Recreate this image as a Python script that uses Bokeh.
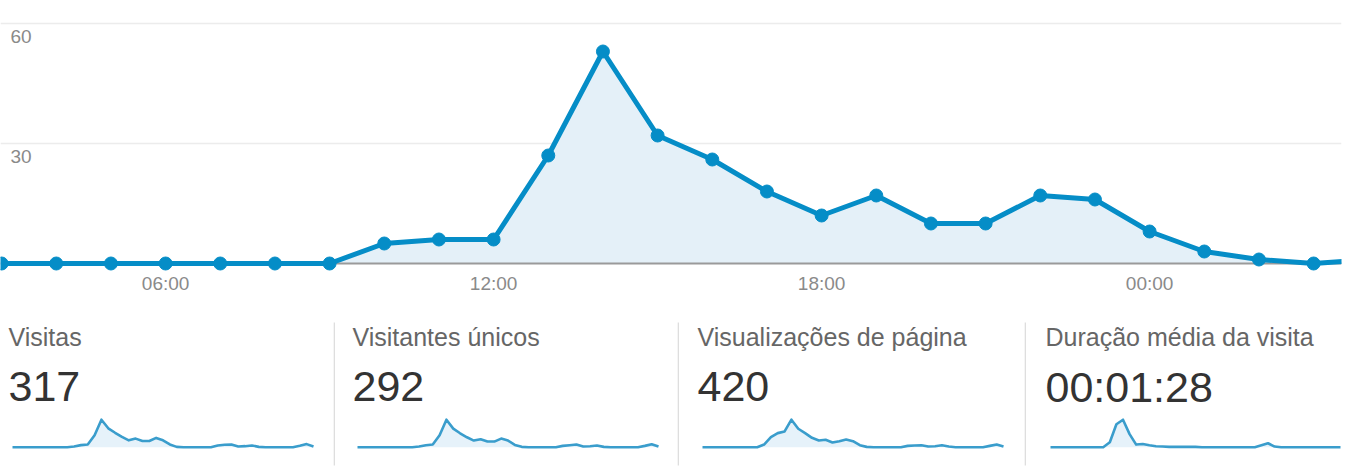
from bokeh.plotting import figure
from bokeh.models import Range1d, FixedTicker, Grid, Label, BoxAnnotation
from bokeh.layouts import column, row
from bokeh.embed import file_html
from bokeh.resources import INLINE

# ---------------- data ----------------
hours = list(range(3, 29))  # 03:00 ... 04:00 (next day)
visits = [0, 0, 0, 0, 0, 0, 0, 5, 6, 6, 27, 53, 32, 26, 18, 12, 17, 10, 10, 17, 16, 8, 3, 1, 0, 1]

xticks = [6, 12, 18, 24]
xtick_labels = ["06:00", "12:00", "18:00", "00:00"]
yticks = [30, 60]
ytick_labels = ["30", "60"]

titles = ["Visitas", "Visitantes únicos", "Visualizações de página", "Duração média da visita"]
totals = ["317", "292", "420", "00:01:28"]

spark_visitas = [0, 0, 0, 0, 0, 0, 0, 0, 0, 2, 6, 8, 35, 80, 55, 42, 30, 20, 25, 18, 18, 27, 20, 8, 1,
                 0, 0, 0, 0, 0, 5, 7, 8, 2, 3, 5, 1, 0, 0, 0, 0, 0, 4, 9, 2]
spark_unicos = [0, 0, 0, 0, 0, 0, 0, 0, 0, 2, 6, 8, 36, 83, 56, 42, 30, 20, 24, 17, 17, 26, 20, 7, 1,
                0, 0, 0, 0, 0, 4, 6, 8, 2, 3, 5, 1, 0, 0, 0, 0, 0, 4, 9, 2]
spark_paginas = [0, 0, 0, 0, 0, 0, 0, 0, 0, 8, 30, 42, 47, 82, 55, 42, 28, 20, 22, 14, 18, 23, 18, 6, 1,
                 0, 0, 0, 0, 0, 4, 5, 6, 2, 3, 6, 2, 0, 0, 0, 0, 0, 4, 8, 2]
spark_duracao = [0, 0, 0, 0, 0, 0, 0, 0, 0, 15, 70, 84, 40, 8, 10, 6, 3, 2, 1, 1, 1, 1, 1, 0, 0,
                 0, 0, 0, 0, 0, 0, 0, 6, 12, 2, 0, 0, 0, 0, 0, 0, 0, 0, 0, 0]
sparks = [spark_visitas, spark_unicos, spark_paginas, spark_duracao]

FONT = "Liberation Sans"
BLUE = "#058dc7"

# ---------------- main chart ----------------
p = figure(width=1347, height=300,
           x_range=Range1d(2.98, 27.51), y_range=Range1d(-2.25, 65.75),
           output_backend="svg", toolbar_location=None, y_axis_location=None,
           min_border_left=0, min_border_right=6, min_border_top=0, min_border_bottom=28,
           outline_line_color=None)
p.grid.visible = False
p.xaxis.ticker = FixedTicker(ticks=xticks)
p.xaxis.major_label_overrides = dict(zip(xticks, xtick_labels))
p.xaxis.axis_line_color = None
p.xaxis.major_tick_line_color = None
p.xaxis.minor_tick_line_color = None
p.xaxis.major_tick_out = 0
p.xaxis.major_tick_in = 0
p.xaxis.minor_tick_out = 0
p.xaxis.major_label_standoff = 0
p.xaxis.major_label_text_font = FONT
p.xaxis.major_label_text_font_size = "19px"
p.xaxis.major_label_text_color = "#8a8a8a"

p.add_layout(Grid(dimension=1, ticker=FixedTicker(ticks=yticks),
                  grid_line_color="#ececec", grid_line_width=1.5))

p.varea(x=hours, y1=0, y2=visits, fill_color="#e4f0f8")
p.hspan(y=[0], line_color="#9a9a9a", line_width=2)
p.line(hours, visits, line_color=BLUE, line_width=5, line_join="round")
p.scatter(hours, visits, size=13, fill_color=BLUE, line_color=BLUE)

for t, lab in zip(yticks, ytick_labels):
    p.add_layout(Label(x=10, y=t, x_units="screen", y_units="data", text=lab,
                       y_offset=-13, text_baseline="alphabetic",
                       text_font=FONT, text_font_size="19px", text_color="#8a8a8a"))

# ---------------- bottom panels ----------------
panel_widths = [333, 344, 347, 323]
text_x = [8, 19, 20, 21]
spark_left = [12, 24, 25, 26]
spark_right = [313, 325, 326, 316]
PH = 170

panels = []
for i in range(4):
    data = sparks[i]
    n = len(data)
    idx = list(range(n))
    w = panel_widths[i]
    s = (spark_right[i] - spark_left[i]) / (n - 1)
    xs = -spark_left[i] / s
    xe = xs + w / s
    k = max(data) / 27.5
    f = figure(width=w, height=PH,
               x_range=Range1d(xs, xe), y_range=Range1d(-23.3 * k, (PH - 23.3) * k),
               output_backend="svg", toolbar_location=None,
               x_axis_location=None, y_axis_location=None,
               min_border=0, outline_line_color=None)
    f.grid.visible = False
    f.varea(x=idx, y1=0, y2=data, fill_color="#e6f2fa")
    f.line(idx, data, line_color="#3a9dcc", line_width=2.6, line_join="round")
    f.add_layout(Label(x=text_x[i], y=134, x_units="screen", y_units="screen",
                       text=titles[i], text_baseline="alphabetic",
                       text_font=FONT, text_font_size="25px", text_color="#666666"))
    f.add_layout(Label(x=text_x[i], y=84, x_units="screen", y_units="screen",
                       text=totals[i], text_baseline="alphabetic",
                       text_font=FONT, text_font_size="43px", text_color="#333333"))
    if i > 0:
        f.add_layout(BoxAnnotation(left=0, right=1.3, bottom=5, top=148,
                                   left_units="screen", right_units="screen",
                                   bottom_units="screen", top_units="screen",
                                   fill_color="#d6d6d6", fill_alpha=1.0, line_color=None))
    panels.append(f)

layout = column(p, row(*panels, spacing=0), spacing=0)
open("out.html", "w").write(file_html(layout, INLINE))
